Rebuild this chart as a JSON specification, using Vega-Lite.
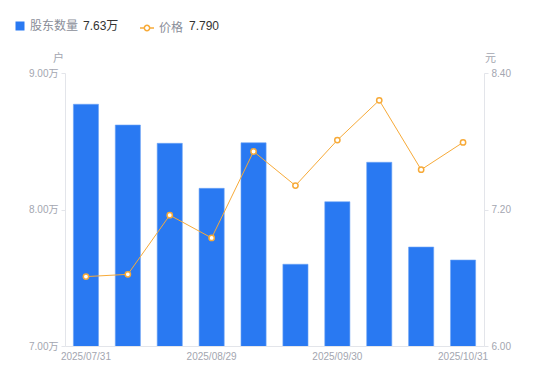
{
  "$schema": "https://vega.github.io/schema/vega-lite/v6.json",
  "width": 419,
  "height": 273,
  "autosize": "none",
  "padding": {"left": 65, "top": 73, "right": 66, "bottom": 35},
  "config": {
    "view": {"stroke": null},
    "font": "Liberation Sans, Noto Sans CJK SC",
    "axis": {"labelFont": "Liberation Sans, Noto Sans CJK SC", "titleFont": "Noto Sans CJK SC"},
    "legend": {"labelFont": "Noto Sans CJK SC"}
  },
  "data": {
    "values": [
      {"date": "2025/07/31", "holders": 8.771, "price": 6.61},
      {"date": "2025/08/10", "holders": 8.619, "price": 6.63},
      {"date": "2025/08/20", "holders": 8.485, "price": 7.15},
      {"date": "2025/08/29", "holders": 8.155, "price": 6.95},
      {"date": "2025/09/10", "holders": 8.489, "price": 7.71},
      {"date": "2025/09/19", "holders": 7.599, "price": 7.41},
      {"date": "2025/09/30", "holders": 8.057, "price": 7.81},
      {"date": "2025/10/10", "holders": 8.346, "price": 8.16},
      {"date": "2025/10/20", "holders": 7.725, "price": 7.55},
      {"date": "2025/10/31", "holders": 7.63, "price": 7.79}
    ]
  },
  "encoding": {
    "x": {
      "field": "date",
      "type": "ordinal",
      "sort": null,
      "scale": {"paddingInner": 0.4, "paddingOuter": 0.2},
      "axis": {
        "title": null,
        "values": ["2025/07/31", "2025/08/29", "2025/09/30", "2025/10/31"],
        "labelAngle": 0,
        "labelFontSize": 10,
        "labelColor": "#A3A6B0",
        "labelPadding": 5,
        "ticks": false,
        "domainColor": "#E3E5EA",
        "labelOverlap": false,
        "labelBound": false
      }
    }
  },
  "layer": [
    {
      "mark": {"type": "bar", "clip": true, "stroke": "#6FA5F5", "strokeWidth": 0.6},
      "encoding": {
        "y": {
          "field": "holders",
          "type": "quantitative",
          "scale": {"domain": [7, 9], "zero": false, "nice": false},
          "axis": {
            "orient": "left",
            "values": [7, 8, 9],
            "labelExpr": "format(datum.value, '.2f') + '万'",
            "labelFontSize": 10,
            "labelColor": "#A3A6B0",
            "labelPadding": 3,
            "tickSize": 4,
            "tickColor": "#E3E5EA",
            "domainColor": "#E3E5EA",
            "grid": false,
            "title": "户",
            "titleAngle": 0,
            "titleAlign": "center",
            "titleBaseline": "alphabetic",
            "titleX": -7,
            "titleY": -12,
            "titleFontSize": 11,
            "titleFontWeight": "normal",
            "titleColor": "#A3A6B0"
          }
        },
        "fill": {
          "datum": "股东数量",
          "scale": {"range": ["#2979F2"]},
          "legend": {
            "orient": "none",
            "legendX": -51,
            "legendY": -53,
            "title": null,
            "padding": 0,
            "symbolType": "square",
            "symbolSize": 81,
            "symbolStrokeWidth": 0,
            "labelOffset": 4,
            "labelFontSize": 12,
            "labelColor": "#8A8E99"
          }
        },
        "opacity": {
          "datum": "7.63万",
          "type": "ordinal",
          "scale": {"range": [1]},
          "legend": {
            "orient": "none",
            "legendX": 6,
            "legendY": -53,
            "title": null,
            "padding": 0,
            "symbolSize": 0,
            "symbolOpacity": 0,
            "symbolFillColor": "transparent",
            "symbolStrokeColor": "transparent",
            "symbolStrokeWidth": 0,
            "labelOffset": 0,
            "labelFontSize": 12,
            "labelFont": "Liberation Sans, Noto Sans CJK SC",
            "labelColor": "#333333"
          }
        }
      }
    },
    {
      "mark": {"type": "line", "strokeWidth": 1, "color": "#F7AA38"},
      "encoding": {
        "y": {
          "field": "price",
          "type": "quantitative",
          "scale": {"domain": [6, 8.4], "zero": false, "nice": false},
          "axis": {
            "orient": "right",
            "values": [6, 7.2, 8.4],
            "format": ".2f",
            "labelFontSize": 10,
            "labelColor": "#A3A6B0",
            "labelPadding": 3,
            "tickSize": 4,
            "tickColor": "#E3E5EA",
            "domainColor": "#E3E5EA",
            "grid": false,
            "title": "元",
            "titleAngle": 0,
            "titleAlign": "center",
            "titleBaseline": "alphabetic",
            "titleX": 6,
            "titleY": -12,
            "titleFontSize": 11,
            "titleFontWeight": "normal",
            "titleColor": "#A3A6B0"
          }
        },
        "stroke": {
          "datum": "价格",
          "scale": {"range": ["#F7AA38"]},
          "legend": {
            "orient": "none",
            "legendX": 74,
            "legendY": -53,
            "title": null,
            "padding": 0,
            "symbolType": "M-1,0H-0.38M0.38,0H1M0.38,0A0.38,0.38 0 1 1 -0.38,0A0.38,0.38 0 1 1 0.38,0Z",
            "symbolSize": 196,
            "symbolStrokeWidth": 1.5,
            "symbolFillColor": "#ffffff",
            "labelOffset": 4,
            "labelFontSize": 12,
            "labelColor": "#8A8E99"
          }
        },
        "opacity": {
          "datum": "7.790",
          "type": "ordinal",
          "scale": {"range": [1]},
          "legend": {
            "orient": "none",
            "legendX": 112,
            "legendY": -53,
            "title": null,
            "padding": 0,
            "symbolSize": 0,
            "symbolOpacity": 0,
            "symbolFillColor": "transparent",
            "symbolStrokeColor": "transparent",
            "symbolStrokeWidth": 0,
            "labelOffset": 0,
            "labelFontSize": 12,
            "labelFont": "Liberation Sans, Noto Sans CJK SC",
            "labelColor": "#333333"
          }
        }
      }
    },
    {
      "mark": {"type": "point", "shape": "circle", "filled": true, "fill": "#ffffff", "stroke": "#F7AA38", "strokeWidth": 1.5, "size": 28, "opacity": 1},
      "encoding": {
        "y": {"field": "price", "type": "quantitative", "scale": {"domain": [6, 8.4], "zero": false, "nice": false}, "axis": null}
      }
    }
  ],
  "resolve": {"scale": {"y": "independent", "fill": "independent", "stroke": "independent", "opacity": "independent"}}
}
